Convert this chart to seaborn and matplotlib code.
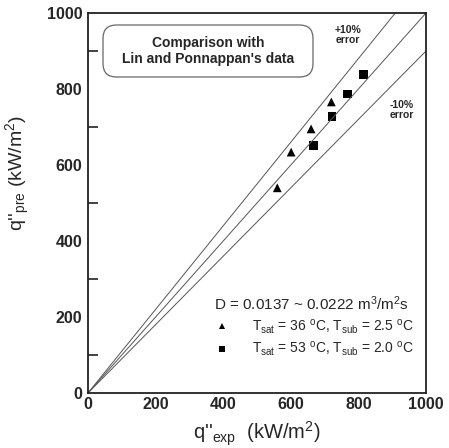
import matplotlib
matplotlib.use("Agg")
import matplotlib.pyplot as plt
import seaborn as sns
import pandas as pd
import numpy as np
from matplotlib.patches import FancyBboxPatch

# ---- data ----
tri_exp = [560, 601, 660, 720]
tri_pre = [540, 634, 695, 766]
sq_exp = [667, 722, 767, 816]
sq_pre = [652, 727, 787, 838]
series_labels = [r"T$_{\mathrm{sat}}$ = 36 $^{\mathrm{o}}$C, T$_{\mathrm{sub}}$ = 2.5 $^{\mathrm{o}}$C",
                 r"T$_{\mathrm{sat}}$ = 53 $^{\mathrm{o}}$C, T$_{\mathrm{sub}}$ = 2.0 $^{\mathrm{o}}$C"]
ref_x = [0, 1000]
ref_factors = [1.1, 1.0, 0.9]
ticks = [0, 200, 400, 600, 800, 1000]

sns.set_theme(style="white")
plt.rcParams['font.family'] = ['Liberation Sans', 'DejaVu Sans']
plt.rcParams['mathtext.fontset'] = 'custom'
plt.rcParams['mathtext.rm'] = 'Liberation Sans'
plt.rcParams['mathtext.it'] = 'Liberation Sans:italic'
plt.rcParams['mathtext.bf'] = 'Liberation Sans:bold'

fig = plt.figure(figsize=(4.49, 4.48), dpi=100)
ax = fig.add_axes([88/449, 55/448, 338/449, 380/448])

# reference lines
lines = pd.DataFrame({
    "x": ref_x * len(ref_factors),
    "y": [f * v for f in ref_factors for v in ref_x],
    "grp": [str(f) for f in ref_factors for _ in ref_x],
})
sns.lineplot(data=lines, x="x", y="y", units="grp", estimator=None,
             color="#555555", lw=0.7, ax=ax, legend=False)

pts = pd.DataFrame({
    "exp": tri_exp + sq_exp,
    "pre": tri_pre + sq_pre,
    "set": [series_labels[0]] * len(tri_exp) + [series_labels[1]] * len(sq_exp),
})
sns.scatterplot(data=pts, x="exp", y="pre", style="set",
                markers={series_labels[0]: "^", series_labels[1]: "s"},
                color="black", s=40, edgecolor="black", linewidth=0, ax=ax)

ax.set_xlim(0, 1000)
ax.set_ylim(0, 1000)
ax.set_xticks(ticks)
ax.set_yticks(ticks)
ax.set_yticks([100, 300, 500, 700, 900], minor=True)
ax.tick_params(axis="both", which="major", direction="in", length=12, width=1.2,
               color="#222222", labelsize=11.5, pad=4)
ax.tick_params(axis="y", which="minor", direction="in", length=7, width=1.2, color="#222222", left=True)
ax.tick_params(axis="x", which="major", pad=3)
for lab in ax.get_xticklabels() + ax.get_yticklabels():
    lab.set_fontweight("bold")
for sp in ax.spines.values():
    sp.set_color("#222222")
    sp.set_linewidth(1.3)

ax.set_xlabel(r"q''$_{\mathrm{exp}}$  (kW/m$^{2}$)", fontsize=14.5, labelpad=5)
ax.set_ylabel(r"q''$_{\mathrm{pre}}$ (kW/m$^{2}$)", fontsize=14)
ax.yaxis.set_label_coords(-0.166, 0.58)

# error labels
ax.text(769, 942, "+10%\nerror", ha="center", va="center", fontsize=7.5,
        fontweight="bold", linespacing=1.1)
ax.text(928, 745, "-10%\nerror", ha="center", va="center", fontsize=7.5,
        fontweight="bold", linespacing=1.1)

# rounded title box
box = FancyBboxPatch((103/449, (448-77)/448), 210/449, 52/448,
                     boxstyle="round,pad=0,rounding_size=0.03",
                     transform=fig.transFigure, facecolor="white",
                     edgecolor="#666666", lw=0.9, zorder=3)
fig.patches.append(box)
fig.text(208/449, (448-51)/448, "Comparison with\nLin and Ponnappan's data",
         ha="center", va="center", fontsize=10, fontweight="bold",
         linespacing=1.15, zorder=4)

leg = ax.legend(title=r"D = 0.0137 ~ 0.0222 m$^{3}$/m$^{2}$s", frameon=False,
                loc="center", bbox_to_anchor=(0.66, 0.175), fontsize=10,
                title_fontsize=11, handletextpad=1.2, borderpad=0.2,
                labelspacing=0.3, markerscale=0.65)
leg.get_title().set_ha("center")

fig.savefig("out.png", dpi=100)
